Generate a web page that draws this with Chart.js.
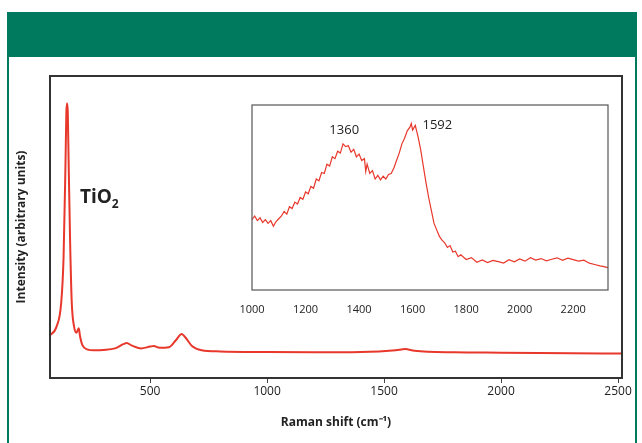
<!DOCTYPE html>
<html>
<head>
<meta charset="utf-8">
<script src="https://cdn.jsdelivr.net/npm/chart.js@4"></script>
<style>
  body { margin: 0; background: #fff; font-family: "Open Sans", sans-serif; }
  #frame { position: absolute; left: 7px; top: 12px; width: 626px; height: 440px; border-left: 2px solid #007a5e; border-right: 2px solid #007a5e; }
  #band { position: absolute; left: 7px; top: 12px; width: 630px; height: 45px; background: #007a5e; }
  #main { position: absolute; left: 0; top: 0; }
  #inset { position: absolute; left: 232px; top: 100px; }
</style>
</head>
<body>
<div id="frame"></div>
<div id="band"></div>
<canvas id="main" width="642" height="443"></canvas>
<canvas id="inset" width="390" height="215"></canvas>
<script>
// Full spectrum
const shift = [70, 100, 120, 130, 138, 142, 145, 148, 152, 158, 165, 175, 185, 195, 200, 210, 230, 260, 300, 350, 385, 400, 420, 460, 500, 515, 540, 580, 610, 635, 650, 680, 720, 800, 1000, 1200, 1400, 1550, 1590, 1630, 1800, 2000, 2300, 2520];
const intensity = [14, 17, 25, 40, 70, 88, 91, 88, 70, 45, 25, 17, 15, 16.5, 14, 11, 9.5, 9.2, 9.3, 9.8, 11.2, 11.6, 10.8, 9.8, 10.4, 10.6, 10, 10.2, 12.5, 14.6, 13.5, 10.5, 9.2, 8.8, 8.6, 8.5, 8.6, 9.2, 9.6, 9.0, 8.5, 8.4, 8.2, 8.1];
const mainTicks = [500, 1000, 1500, 2000, 2500];

// Inset (carbon D and G bands), noisy trace
const insetShift = [1000, 1010, 1020, 1030, 1040, 1050, 1060, 1070, 1080, 1090, 1100, 1110, 1120, 1130, 1140, 1150, 1160, 1170, 1180, 1190, 1200, 1210, 1220, 1230, 1240, 1250, 1260, 1270, 1280, 1290, 1300, 1310, 1320, 1330, 1340, 1350, 1360, 1370, 1380, 1390, 1400, 1410, 1420, 1425, 1430, 1440, 1450, 1460, 1470, 1480, 1490, 1500, 1510, 1520, 1530, 1540, 1550, 1560, 1570, 1580, 1590, 1595, 1600, 1610, 1620, 1630, 1640, 1650, 1660, 1670, 1680, 1690, 1700, 1710, 1720, 1730, 1740, 1750, 1760, 1770, 1780, 1800, 1820, 1840, 1860, 1880, 1900, 1920, 1940, 1960, 1980, 2000, 2020, 2040, 2060, 2080, 2100, 2120, 2140, 2160, 2180, 2200, 2220, 2240, 2260, 2280, 2300, 2315, 2330];
const insetVal = [38, 40, 37.5, 39, 36.5, 38, 36, 37.5, 34.5, 37, 38.5, 40, 42.5, 41, 45, 44, 47.5, 46.5, 50, 49, 53, 52, 56, 55, 60, 59, 63.5, 63, 68, 67, 72, 71, 75, 74, 79, 77.5, 78, 74.5, 76, 72, 73.5, 70, 71, 64, 68, 63, 64.5, 60, 62, 59.5, 61.5, 60, 62.5, 63, 66, 70, 74, 79, 82, 86, 88, 90, 86.5, 89, 83, 76, 67, 58, 50, 43, 36, 32.5, 29, 27, 25.5, 23, 24, 20.5, 21, 18, 19, 16.5, 17.5, 15, 16.2, 14.8, 16, 15.3, 14.6, 16.4, 15.2, 16.8, 15.6, 17.5, 16.2, 17, 15.8, 16.6, 17.4, 16, 17.2, 16.4, 15.6, 16.1, 14.5, 13.8, 13, 12.6, 12.1, 10.8];
const insetTicks = [1000, 1200, 1400, 1600, 1800, 2000, 2200];
const insetLabels = [{ x: 1360, y: 80, text: "1360", dx: -19, dy: -12 }, { x: 1592, y: 89, text: "1592", dx: 12, dy: 0 }];

const red = "#e8372b";

function pts(xs, ys) { return xs.map((x, i) => ({ x: x, y: ys[i] })); }

const boxPlugin = {
  id: "box",
  afterDraw(chart, args, opts) {
    const a = chart.chartArea, c = chart.ctx;
    c.save();
    c.strokeStyle = opts.color; c.lineWidth = opts.width;
    c.strokeRect(a.left, a.top, a.right - a.left, a.bottom - a.top);
    c.restore();
  }
};

const tioPlugin = {
  id: "tio",
  afterDraw(chart) {
    const c = chart.ctx;
    const px = chart.scales.x.getPixelForValue(200), py = chart.scales.y.getPixelForValue(58);
    c.save();
    c.fillStyle = "#222";
    c.font = "bold 19px 'Open Sans'";
    c.fillText("TiO", px, py);
    const w = c.measureText("TiO").width;
    c.font = "bold 12px 'Open Sans'";
    c.fillText("2", px + w, py + 5);
    c.restore();
  }
};

new Chart(document.getElementById("main"), {
  type: "line",
  data: { datasets: [{ data: pts(shift, intensity), borderColor: red, borderWidth: 2, pointRadius: 0, cubicInterpolationMode: "monotone" }] },
  options: {
    responsive: false, animation: false,
    layout: { padding: { top: 76, right: 20, bottom: 9 } },
    plugins: { legend: { display: false }, tooltip: { enabled: false }, box: { color: "#333", width: 2 } },
    scales: {
      x: {
        type: "linear", min: 72, max: 2517,
        afterBuildTicks(s) { s.ticks = mainTicks.map(v => ({ value: v })); },
        afterFit(s) { s.height = 56; },
        grid: { drawOnChartArea: false, drawTicks: true, tickLength: 5, color: "#444" },
        border: { display: false },
        ticks: { color: "#222", font: { size: 12, family: "Open Sans" }, padding: 1, callback: v => String(v) },
        title: { display: true, text: "Raman shift (cm\u207B\u00B9)", color: "#222", font: { size: 12, weight: "bold", family: "Open Sans" }, padding: { top: 8 } }
      },
      y: {
        min: 0, max: 100,
        afterFit(s) { s.width = 50; },
        ticks: { display: false }, grid: { display: false }, border: { display: false },
        title: { display: true, text: "Intensity (arbitrary units)", color: "#222", font: { size: 12, weight: "bold", family: "Open Sans" }, padding: { top: 14, bottom: 0 } }
      }
    }
  },
  plugins: [boxPlugin, tioPlugin]
});

const labelPlugin = {
  id: "peaks",
  afterDraw(chart) {
    const c = chart.ctx;
    c.save();
    c.fillStyle = "#222"; c.font = "13px 'Open Sans'"; c.textBaseline = "middle";
    insetLabels.forEach(l => {
      c.fillText(l.text, chart.scales.x.getPixelForValue(l.x) + l.dx, chart.scales.y.getPixelForValue(l.y) + l.dy);
    });
    c.restore();
  }
};

new Chart(document.getElementById("inset"), {
  type: "line",
  data: { datasets: [{ data: pts(insetShift, insetVal), borderColor: red, borderWidth: 1.2, pointRadius: 0, tension: 0 }] },
  options: {
    responsive: false, animation: false,
    layout: { padding: { top: 5, right: 14, left: 0 } },
    plugins: { legend: { display: false }, tooltip: { enabled: false }, box: { color: "#555", width: 1.2 } },
    scales: {
      x: {
        type: "linear", min: 1000, max: 2330,
        afterBuildTicks(s) { s.ticks = insetTicks.map(v => ({ value: v })); },
        afterFit(s) { s.height = 25; },
        grid: { display: false }, border: { display: false },
        ticks: { color: "#222", font: { size: 11, family: "Open Sans" }, padding: 5, callback: v => String(v) }
      },
      y: {
        min: 0, max: 100,
        afterFit(s) { s.width = 20; },
        ticks: { display: false }, grid: { display: false }, border: { display: false }
      }
    }
  },
  plugins: [boxPlugin, labelPlugin]
});
</script>
</body>
</html>
